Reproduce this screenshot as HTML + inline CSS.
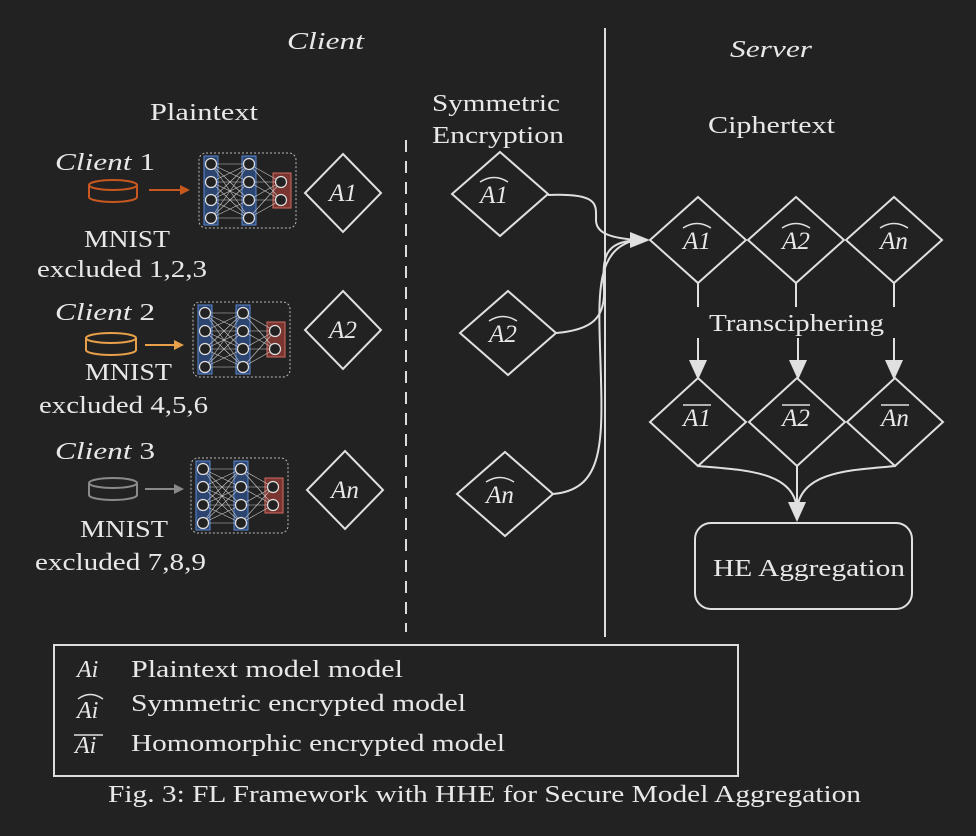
<!DOCTYPE html>
<html><head><meta charset="utf-8"><style>
html,body{margin:0;padding:0;background:#222222;}
svg{display:block;}
text{font-family:"Liberation Serif",serif;fill:#e8e8e8;}
</style></head><body>
<svg width="976" height="836" viewBox="0 0 976 836" xmlns="http://www.w3.org/2000/svg">
<defs>
<g id="nn">
  <rect x="0" y="0" width="97" height="75" rx="7" fill="none" stroke="#bbb" stroke-width="1" stroke-dasharray="2,2"/>
  <rect x="5" y="3" width="14" height="69" fill="#2c4470" stroke="#5a86d0" stroke-width="1"/>
  <rect x="43" y="3" width="14" height="69" fill="#2c4470" stroke="#5a86d0" stroke-width="1"/>
  <rect x="74" y="20" width="18" height="35" fill="#7a3530" stroke="#d06a60" stroke-width="1"/>
  <g stroke="#ccc" stroke-width="0.6">
    <path d="M12,11L50,11M12,11L50,29M12,11L50,47M12,11L50,65M12,29L50,11M12,29L50,29M12,29L50,47M12,29L50,65M12,47L50,11M12,47L50,29M12,47L50,47M12,47L50,65M12,65L50,11M12,65L50,29M12,65L50,47M12,65L50,65"/>
    <path d="M50,11L82,29M50,11L82,47M50,29L82,29M50,29L82,47M50,47L82,29M50,47L82,47M50,65L82,29M50,65L82,47"/>
  </g>
  <g fill="#222" stroke="#e0e0e0" stroke-width="1.2">
    <circle cx="12" cy="11" r="5.5"/><circle cx="12" cy="29" r="5.5"/><circle cx="12" cy="47" r="5.5"/><circle cx="12" cy="65" r="5.5"/>
    <circle cx="50" cy="11" r="5.5"/><circle cx="50" cy="29" r="5.5"/><circle cx="50" cy="47" r="5.5"/><circle cx="50" cy="65" r="5.5"/>
    <circle cx="82" cy="29" r="5.5"/><circle cx="82" cy="47" r="5.5"/>
  </g>
</g>
</defs>

<g font-size="24">
<text x="287" y="49" font-style="italic" textLength="77" lengthAdjust="spacingAndGlyphs">Client</text>
<text x="730" y="57" font-style="italic" textLength="82" lengthAdjust="spacingAndGlyphs">Server</text>
<text x="150" y="120" textLength="108" lengthAdjust="spacingAndGlyphs">Plaintext</text>
<text x="432" y="111" textLength="128" lengthAdjust="spacingAndGlyphs">Symmetric</text>
<text x="432" y="143" textLength="132" lengthAdjust="spacingAndGlyphs">Encryption</text>
<text x="708" y="133" textLength="127" lengthAdjust="spacingAndGlyphs">Ciphertext</text>
</g>

<line x1="406" y1="140" x2="406" y2="632" stroke="#ddd" stroke-width="2" stroke-dasharray="12,9"/>
<line x1="605" y1="28" x2="605" y2="637" stroke="#ddd" stroke-width="2"/>

<g font-size="24">
<text x="55" y="170" textLength="100" lengthAdjust="spacingAndGlyphs"><tspan font-style="italic">Client</tspan> 1</text>
<text x="55" y="320" textLength="100" lengthAdjust="spacingAndGlyphs"><tspan font-style="italic">Client</tspan> 2</text>
<text x="55" y="459" textLength="100" lengthAdjust="spacingAndGlyphs"><tspan font-style="italic">Client</tspan> 3</text>
<text x="84" y="247" textLength="86" lengthAdjust="spacingAndGlyphs">MNIST</text>
<text x="37" y="277" textLength="170" lengthAdjust="spacingAndGlyphs">excluded 1,2,3</text>
<text x="85" y="380" textLength="87" lengthAdjust="spacingAndGlyphs">MNIST</text>
<text x="39" y="413" textLength="169" lengthAdjust="spacingAndGlyphs">excluded 4,5,6</text>
<text x="80" y="537" textLength="88" lengthAdjust="spacingAndGlyphs">MNIST</text>
<text x="35" y="570" textLength="171" lengthAdjust="spacingAndGlyphs">excluded 7,8,9</text>
</g>

<g fill="none" stroke-width="2">
  <g stroke="#c8581f"><ellipse cx="113" cy="185" rx="24" ry="5"/><path d="M89,185V197A24,5 0 0 0 137,197V185"/></g>
  <g stroke="#e8a04a"><ellipse cx="111" cy="338" rx="25" ry="5"/><path d="M86,338V350A25,5 0 0 0 136,350V338"/></g>
  <g stroke="#8a8a8a"><ellipse cx="113" cy="483" rx="24" ry="5"/><path d="M89,483V495A24,5 0 0 0 137,495V483"/></g>
</g>
<line x1="149" y1="190" x2="186" y2="190" stroke="#c8581f" stroke-width="2"/><path d="M180,185L190,190L180,195z" fill="#c8581f"/>
<line x1="145" y1="345" x2="178" y2="345" stroke="#e8a04a" stroke-width="2"/><path d="M174,340L184,345L174,350z" fill="#e8a04a"/>
<line x1="145" y1="489" x2="178" y2="489" stroke="#8a8a8a" stroke-width="2"/><path d="M174,484L184,489L174,494z" fill="#8a8a8a"/>

<use href="#nn" x="199" y="153"/>
<use href="#nn" x="193" y="302"/>
<use href="#nn" x="191" y="458"/>

<g fill="none" stroke="#e0e0e0" stroke-width="2">
  <path d="M343,154L381,193L343,232L305,193z"/>
  <path d="M343,291L381,330L343,369L305,330z"/>
  <path d="M345,451L383,490L345,529L307,490z"/>
  <path d="M500,152L548,194L500,236L452,194z"/>
  <path d="M508,291L556,333L508,375L460,333z"/>
  <path d="M505,452L553,494L505,536L457,494z"/>
  <path d="M698,197L746,240L698,283L650,240z"/>
  <path d="M796,197L844,240L796,283L748,240z"/>
  <path d="M894,197L942,240L894,283L846,240z"/>
  <path d="M698,378L746,422L698,466L650,422z"/>
  <path d="M797,378L845,422L797,466L749,422z"/>
  <path d="M895,378L943,422L895,466L847,422z"/>
  <path d="M548,195C600,193 596,205 596,220C596,235 615,238 636,240"/>
  <path d="M556,333C592,330 605,318 604,290C602,255 605,243 636,240"/>
  <path d="M553,494C600,490 603,450 601,380C599,300 592,250 636,240"/>
  <path d="M698,283V307M796,283V307M894,283V307"/>
  <path d="M698,338V368M798,338V368M894,338V368"/>
  <path d="M698,466C740,470 795,470 797,510"/>
  <path d="M797,466V510"/>
  <path d="M895,466C855,470 800,470 797,510"/>
  <rect x="695" y="523" width="217" height="86" rx="16"/>
</g>
<path d="M630,232L650,240L630,248z" fill="#e0e0e0"/>
<path d="M689,360L698,380L707,360z" fill="#e0e0e0"/>
<path d="M789,360L798,380L807,360z" fill="#e0e0e0"/>
<path d="M885,360L894,380L903,360z" fill="#e0e0e0"/>
<path d="M788,502L797,522L806,502z" fill="#e0e0e0"/>

<g font-size="25" font-style="italic" text-anchor="middle">
  <text x="343" y="201">A1</text><text x="343" y="338">A2</text><text x="345" y="498">An</text>
  <text x="494" y="203">A1</text><text x="503" y="342">A2</text><text x="500" y="503">An</text>
  <text x="697" y="249">A1</text><text x="796" y="249">A2</text><text x="894" y="249">An</text>
  <text x="697" y="426">A1</text><text x="796" y="426">A2</text><text x="895" y="426">An</text>
</g>
<g fill="none" stroke="#e0e0e0" stroke-width="1.4">
  <path d="M480,182Q494,173 508,182"/><path d="M489,321Q503,312 517,321"/><path d="M486,482Q500,473 514,482"/>
  <path d="M683,228Q697,219 711,228"/><path d="M782,228Q796,219 810,228"/><path d="M880,228Q894,219 908,228"/>
  <path d="M683,405H711M782,405H810M881,405H909"/>
</g>
<text x="709" y="331" font-size="24" textLength="175" lengthAdjust="spacingAndGlyphs">Transciphering</text>
<text x="713" y="576" font-size="24" textLength="192" lengthAdjust="spacingAndGlyphs">HE Aggregation</text>

<rect x="54" y="645" width="684" height="131" fill="none" stroke="#ddd" stroke-width="2"/>
<g font-size="24">
  <text x="77" y="677" font-style="italic">Ai</text><text x="131" y="677" textLength="272" lengthAdjust="spacingAndGlyphs">Plaintext model model</text>
  <text x="77" y="718" font-style="italic">Ai</text><text x="131" y="711" textLength="335" lengthAdjust="spacingAndGlyphs">Symmetric encrypted model</text>
  <text x="75" y="753" font-style="italic">Ai</text><text x="131" y="751" textLength="374" lengthAdjust="spacingAndGlyphs">Homomorphic encrypted model</text>
</g>
<path d="M78,699Q90,690 103,699" fill="none" stroke="#e0e0e0" stroke-width="1.4"/>
<line x1="74" y1="735" x2="103" y2="735" stroke="#e0e0e0" stroke-width="1.4"/>
<text x="108" y="802" font-size="24" textLength="753" lengthAdjust="spacingAndGlyphs">Fig. 3: FL Framework with HHE for Secure Model Aggregation</text>
</svg>
</body></html>
